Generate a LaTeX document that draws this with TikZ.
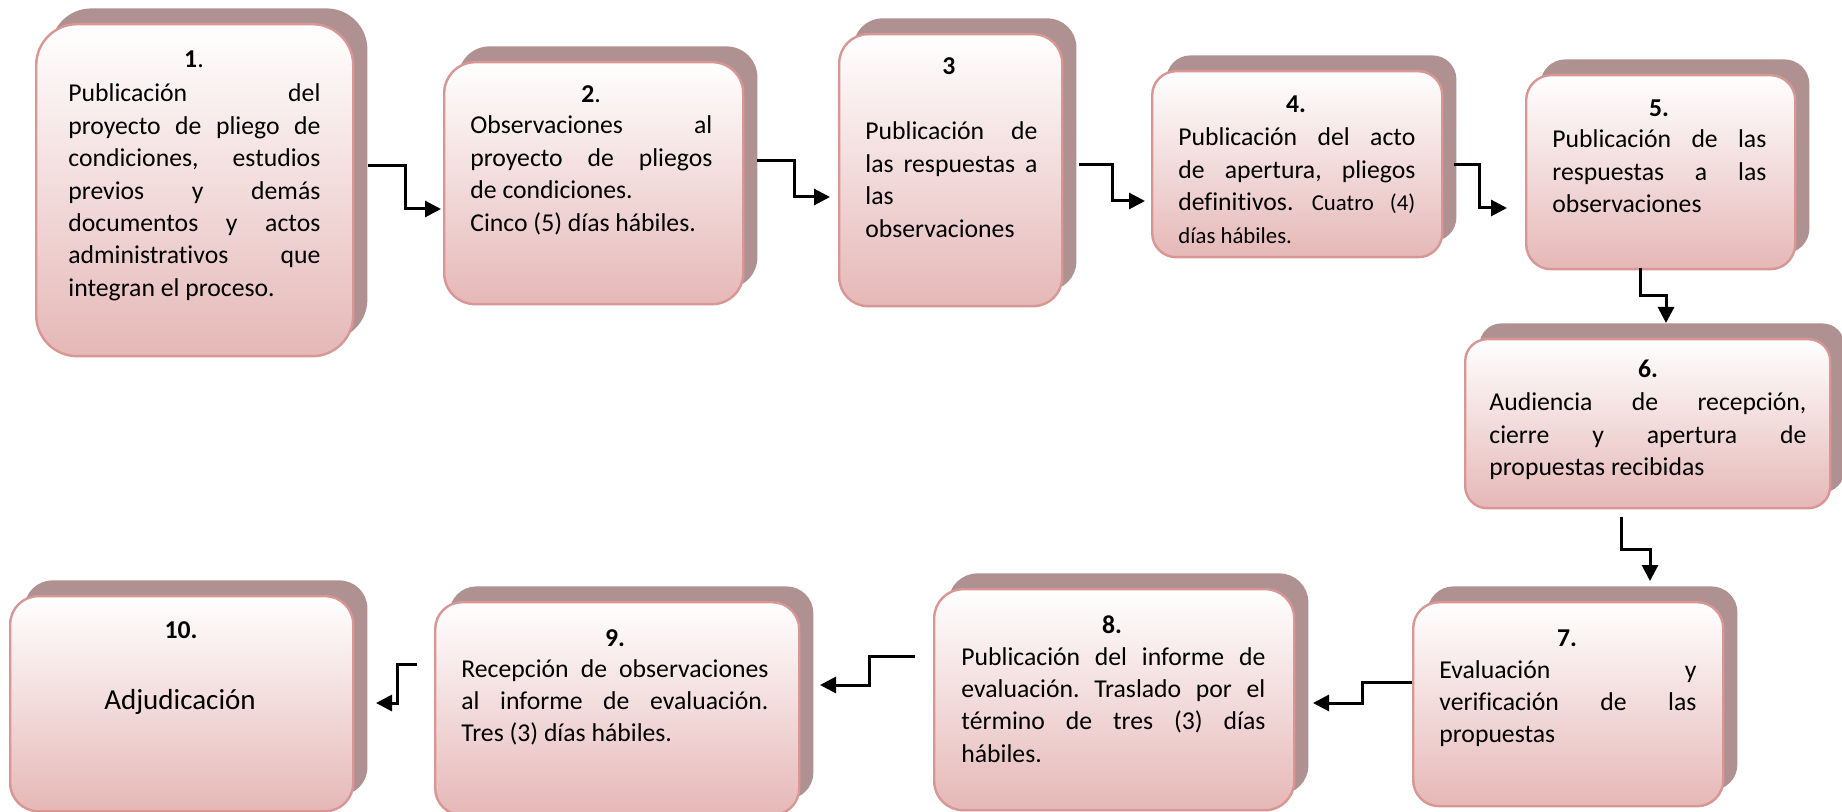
\documentclass[tikz,border=0pt]{standalone}
\usepackage{fontspec}
\setmainfont{Carlito}[Ligatures=NoCommon]
\usetikzlibrary{arrows.meta}
\definecolor{shadowc}{RGB}{176,145,145}
\definecolor{boxbot}{RGB}{229,184,183}
\definecolor{boxline}{RGB}{217,150,148}
\newcommand\bodyfont{\fontsize{12.85pt}{16.2pt}\selectfont}
\newcommand\smallbody{\fontsize{11.4pt}{14.4pt}\selectfont}
\tolerance=10000
\hyphenpenalty=10000
\hbadness=10000
\frenchspacing
\newcommand\flowbox[6]{%
  \node[shbox, minimum width=#4*0.5pt, minimum height=#5*0.5pt, rounded corners=#6*0.5pt, anchor=north west] (#1s) at (#2+15,#3-15) {};
  \node[frontbox, minimum width=#4*0.5pt, minimum height=#5*0.5pt, rounded corners=#6*0.5pt, anchor=north west] (#1) at (#2,#3) {};
}
\begin{document}
\begin{tikzpicture}[x=0.5pt,y=-0.5pt,
  shbox/.style={fill=shadowc, draw=none, inner sep=0pt},
  frontbox/.style={top color=white, bottom color=boxbot, draw=boxline, line width=1.2pt, inner sep=0pt},
  body/.style={inner sep=0pt, anchor=base west, font=\bodyfont, align=justify},
  ttl/.style={inner sep=0pt, anchor=base, font=\bodyfont},
  conn/.style={line width=1.5pt, -{Triangle[length=8pt,width=8pt]}}]
\useasboundingbox[fill=white] (0,0) rectangle (1842,812);

\flowbox{b1}{35}{23}{317}{332}{41}
\flowbox{b2}{443}{61}{299}{242}{31}
\flowbox{b3}{838}{33}{223}{272}{29}
\flowbox{b4}{1151}{70}{290}{186}{24}
\flowbox{b5}{1525}{74}{269}{194}{25}
\flowbox{b6}{1464}{338}{365}{169}{22}
\flowbox{b7}{1412}{601}{310}{204}{26}
\flowbox{b8}{933}{588}{360}{221}{29}
\flowbox{b9}{434}{601}{364}{213}{27}
\flowbox{b10}{9}{595}{343}{215}{28}

% texts
\node[ttl] (n1) at (194,68) {\textbf{1}.};
\node[body, text width=126pt] (t1) at (68,102) {Publicación del\linebreak proyecto de pliego de\linebreak condiciones, estudios\linebreak previos y demás\linebreak documentos y actos\linebreak administrativos que\linebreak integran el proceso.};

\node[ttl] (n2) at (591,103) {\textbf{2}.};
\node[body, text width=121pt] (t2) at (470,134) {Observaciones al\linebreak proyecto de pliegos\linebreak de condiciones.\par Cinco (5) días hábiles.};

\node[ttl] (n3) at (949,75) {\textbf{3}};
\node[body, text width=86pt] (t3) at (865,140) {Publicación de\linebreak las respuestas a\linebreak las\linebreak observaciones};

\node[ttl] (n4) at (1296,113) {\textbf{4.}};
\node[body, text width=118.5pt] (t4) at (1178,146) {Publicación del acto\linebreak de apertura, pliegos\linebreak definitivos. {\smallbody Cuatro (4)\linebreak días hábiles.}};

\node[ttl] (n5) at (1659,117) {\textbf{5.}};
\node[body, text width=107pt] (t5) at (1552,148) {Publicación de las\linebreak respuestas a las\linebreak observaciones};

\node[ttl] (n6) at (1648,378) {\textbf{6.}};
\node[body, text width=158.5pt] (t6) at (1489,411) {Audiencia de recepción,\linebreak cierre y apertura de\linebreak propuestas recibidas};

\node[ttl] (n7) at (1567,646) {\textbf{7.}};
\node[body, text width=128.5pt] (t7) at (1439,678) {Evaluación y\linebreak verificación de las\linebreak propuestas};

\node[ttl] (n8) at (1112,633) {\textbf{8.}};
\node[body, text width=152pt] (t8) at (961,665) {Publicación del informe de\linebreak evaluación. Traslado por el\linebreak término de tres (3) días\linebreak hábiles.};

\node[ttl] (n9) at (615,646) {\textbf{9.}};
\node[body, text width=153.5pt] (t9) at (461,677) {Recepción de observaciones\linebreak al informe de evaluación.\linebreak Tres (3) días hábiles.};

\node[ttl] (n10) at (181,638) {\textbf{10.}};
\node[ttl, font=\fontsize{14.5pt}{17pt}\selectfont] (t10) at (180,709) {Adjudicación};

% connectors
\coordinate (a12s) at (368,166); \coordinate (a12e) at (441,209);
\coordinate (a23s) at (757,161); \coordinate (a23e) at (830,197);
\coordinate (a34s) at (1079,165); \coordinate (a34e) at (1145,201);
\coordinate (a45s) at (1454,165); \coordinate (a45e) at (1507,208);
\coordinate (a56s) at (1640,268); \coordinate (a56e) at (1666,323);
\coordinate (a67s) at (1621,517); \coordinate (a67e) at (1650,581);
\coordinate (a78s) at (1412,682); \coordinate (a78e) at (1313,703);
\coordinate (a89s) at (915,656); \coordinate (a89e) at (820,685);
\coordinate (a910s) at (417,664); \coordinate (a910e) at (376,703);

\draw[conn] (a12s) -- ++(37,0) |- (a12e);
\draw[conn] (a23s) -- ++(37,0) |- (a23e);
\draw[conn] (a34s) -- ++(33,0) |- (a34e);
\draw[conn] (a45s) -- ++(25,0) |- (a45e);
\draw[conn] (a56s) -- ++(0,28) -| (a56e);
\draw[conn] (a67s) -- ++(0,32) -| (a67e);
\draw[conn] (a78s) -- ++(-50,0) |- (a78e);
\draw[conn] (a89s) -- ++(-46,0) |- (a89e);
\draw[conn] (a910s) -- ++(-20,0) |- (a910e);
\end{tikzpicture}
\end{document}
